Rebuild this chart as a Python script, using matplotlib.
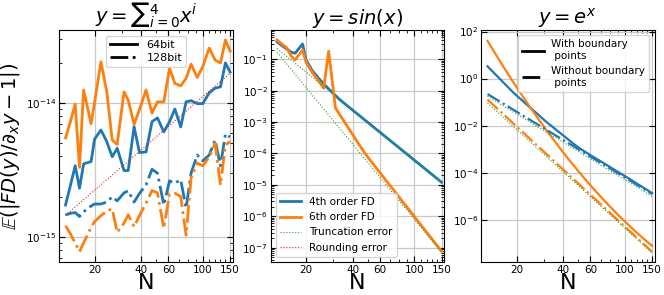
import matplotlib
matplotlib.use('Agg')
import matplotlib.pyplot as plt
from matplotlib.lines import Line2D

plt.rcParams['xtick.direction'] = 'in'
plt.rcParams['ytick.direction'] = 'in'
plt.rcParams['xtick.top'] = True
plt.rcParams['ytick.right'] = True
plt.rcParams['xtick.labelsize'] = 7.5
plt.rcParams['ytick.labelsize'] = 7.5
plt.rcParams['axes.grid'] = True
plt.rcParams['grid.color'] = '#c8c8c8'
plt.rcParams['grid.linewidth'] = 0.9

N = [13, 14, 15, 16, 17, 19, 20, 22, 24, 26, 28, 31, 33, 36, 39, 43, 47, 51,
     56, 61, 66, 72, 78, 84, 92, 100, 110, 120, 130, 140, 150]
N_ends = [13, 150]

# y = sum x^i
poly_fd4_64 = [1.73e-15, 2.44e-15, 3.40e-15, 2.31e-15, 3.51e-15, 3.65e-15, 5.36e-15,
               6.29e-15, 5.14e-15, 3.97e-15, 4.59e-15, 3.13e-15, 3.13e-15, 6.66e-15,
               4.26e-15, 4.31e-15, 7.25e-15, 7.73e-15, 6.08e-15, 7.25e-15, 9.02e-15,
               6.62e-15, 1.02e-14, 1.04e-14, 9.88e-15, 9.9e-15, 1.19e-14, 1.29e-14,
               1.32e-14, 1.99e-14, 1.70e-14]
poly_fd6_64 = [5.48e-15, 7.3e-15, 9.8e-15, 3.3e-15, 1.25e-14, 7.0e-15, 1.0e-14,
               2.03e-14, 1.21e-14, 5.3e-15, 4.9e-15, 1.21e-14, 1.05e-14, 6.9e-15,
               8.9e-15, 1.25e-14, 8.4e-15, 1.02e-14, 1.02e-14, 1.82e-14, 1.40e-14,
               1.34e-14, 1.53e-14, 1.95e-14, 1.55e-14, 1.87e-14, 2.57e-14, 2.09e-14,
               1.99e-14, 2.95e-14, 2.44e-14]
poly_fd4_128 = [1.46e-15, 1.50e-15, 1.52e-15, 1.42e-15, 1.54e-15, 1.70e-15, 1.76e-15,
                1.76e-15, 1.82e-15, 1.99e-15, 1.86e-15, 2.13e-15, 2.21e-15, 1.82e-15,
                2.11e-15, 2.44e-15, 3.20e-15, 2.99e-15, 1.73e-15, 2.62e-15, 2.52e-15,
                2.67e-15, 1.64e-15, 2.99e-15, 4.09e-15, 3.69e-15, 4.09e-15, 5.29e-15,
                3.39e-15, 5.88e-15, 5.57e-15]
poly_fd6_128 = [1.21e-15, 1.05e-15, 9.0e-16, 7.76e-16, 9.0e-16, 1.18e-15, 1.30e-15,
                1.44e-15, 1.56e-15, 1.62e-15, 1.08e-15, 1.27e-15, 1.46e-15, 1.19e-15,
                1.44e-15, 1.79e-15, 2.22e-15, 2.13e-15, 1.16e-15, 2.09e-15, 2.12e-15,
                2.00e-15, 1.03e-15, 2.75e-15, 3.56e-15, 3.39e-15, 3.95e-15, 5.02e-15,
                2.44e-15, 4.86e-15, 5.14e-15]
rounding = [1.45e-15, 1.67e-14]

# y = sin(x)
sin_fd4 = [0.362, 0.27, 0.215, 0.17, 0.155, 0.306, 0.095, 0.0426, 0.0255, 0.0164,
           0.0114, 7.0e-3, 5.2e-3, 3.66e-3, 2.65e-3, 1.80e-3, 1.26e-3, 9.1e-4, 6.25e-4,
           4.44e-4, 3.24e-4, 2.29e-4, 1.66e-4, 1.23e-4, 8.6e-5, 6.1e-5, 4.2e-5,
           2.96e-5, 2.15e-5, 1.6e-5, 1.21e-5]
sin_fd6 = [0.41, 0.30, 0.233, 0.13, 0.095, 0.197, 0.082, 0.037, 0.0212, 0.012, 0.18,
           2.8e-3, 1.72e-3, 8.9e-4, 4.8e-4, 2.3e-4, 1.17e-4, 6.8e-5, 3.8e-5, 2.2e-5,
           1.34e-5, 7.8e-6, 4.7e-6, 2.9e-6, 1.66e-6, 9.8e-7, 5.4e-7, 3.1e-7, 1.88e-7,
           1.18e-7, 7.6e-8]
sin_trunc4 = [0.22, 1.24e-5]
sin_trunc6 = [0.167, 7.1e-8]

# y = e^x
exp_fd4_b = [3.31, 2.02, 1.27, 0.82, 0.55, 0.26, 0.193, 0.110, 0.066, 0.0415, 0.0269,
             0.0148, 0.0106, 6.7e-3, 4.4e-3, 2.62e-3, 1.64e-3, 1.1e-3, 7.4e-4, 5.2e-4,
             3.8e-4, 2.7e-4, 1.95e-4, 1.45e-4, 1.0e-4, 7.2e-5, 4.9e-5, 3.4e-5, 2.45e-5,
             1.8e-5, 1.35e-5]
exp_fd6_b = [39.8, 17.8, 8.5, 4.3, 2.29, 0.73, 0.437, 0.170, 0.0735, 0.0344, 0.0172,
             6.8e-3, 3.9e-3, 1.82e-3, 9.1e-4, 4.0e-4, 1.95e-4, 1.02e-4, 4.9e-5, 2.58e-5,
             1.45e-5, 7.7e-6, 4.4e-6, 2.65e-6, 1.45e-6, 8.5e-7, 4.67e-7, 2.75e-7,
             1.73e-7, 1.13e-7, 7.7e-8]
exp_fd4_nb = [0.22, 0.1636, 0.124, 0.0959, 0.0752, 0.0482, 0.0393, 0.0268, 0.0189,
              0.01375, 0.01022, 6.8e-3, 5.3e-3, 3.74e-3, 2.72e-3, 1.84e-3, 1.29e-3,
              9.3e-4, 6.4e-4, 4.5e-4, 3.3e-4, 2.34e-4, 1.70e-4, 1.26e-4, 8.8e-5, 6.3e-5,
              4.3e-5, 3.0e-5, 2.2e-5, 1.64e-5, 1.24e-5]
exp_fd6_nb = [0.128, 0.0815, 0.0535, 0.0362, 0.0250, 0.0127, 9.28e-3, 5.20e-3, 3.06e-3,
              1.88e-3, 1.20e-3, 6.45e-4, 4.40e-4, 2.59e-4, 1.59e-4, 8.78e-5, 5.11e-5,
              3.11e-5, 1.75e-5, 1.04e-5, 6.57e-6, 3.80e-6, 2.33e-6, 1.48e-6, 8.5e-7,
              5.13e-7, 2.87e-7, 1.69e-7, 1.04e-7, 6.6e-8, 4.34e-8]
exp_trunc4 = [0.176, 9.9e-6]
exp_trunc6 = [0.092, 3.9e-8]

xticks = [20, 40, 60, 100, 150]
xminor = [30, 50, 70, 80, 90, 110, 120, 130, 140]

fig = plt.figure(figsize=(6.64, 2.95), dpi=100)
w, h = 0.2616, 0.786
ax1 = fig.add_axes([0.0889, 0.112, w, h])
ax2 = fig.add_axes([0.4074, 0.112, w, h])
ax3 = fig.add_axes([0.7244, 0.112, w, h])

for ax in (ax1, ax2, ax3):
    ax.set_xscale('log')
    ax.set_yscale('log')
    ax.set_xlim(11.8, 156)
    ax.set_xticks(xticks)
    ax.set_xticklabels([str(t) for t in xticks])
    ax.set_xticks(xminor, minor=True)
    ax.set_xticklabels([], minor=True)
    ax.tick_params(which='major', length=4, pad=2)
    ax.tick_params(which='minor', length=2.5)
    ax.set_xlabel('N', fontsize=16, labelpad=-1)

lw = 2
# panel 1
ax1.plot(N, poly_fd4_64, color='C0', lw=lw)
ax1.plot(N, poly_fd6_64, color='C1', lw=lw)
ax1.plot(N, poly_fd4_128, color='C0', lw=lw, ls='-.')
ax1.plot(N, poly_fd6_128, color='C1', lw=lw, ls='-.')
ax1.plot(N_ends, rounding, color='C3', lw=0.8, ls=':')
ax1.set_ylim(6.5e-16, 3.5e-14)
ax1.set_title(r'$y=\sum{}_{i=0}^{4}x^i$', fontsize=14, pad=3)
ax1.set_ylabel(r'$\mathbb{E}(|FD(y)/\partial_x y - 1|)$', fontsize=14, labelpad=3)
ax1.legend([Line2D([], [], color='k', lw=lw), Line2D([], [], color='k', lw=lw, ls='-.')],
           ['64bit', '128bit'], loc='upper center', fontsize=8,
           labelspacing=0.3, borderpad=0.35, handlelength=2.5)

# panel 2
ax2.plot(N, sin_fd4, color='C0', lw=lw, label='4th order FD')
ax2.plot(N, sin_fd6, color='C1', lw=lw, label='6th order FD')
ax2.plot(N_ends, sin_trunc4, color='C2', lw=0.8, ls=':', label='Truncation error')
ax2.plot(N_ends, sin_trunc6, color='C2', lw=0.8, ls=':')
ax2.plot(N_ends, rounding, color='C3', lw=0.8, ls=':', label='Rounding error')
ax2.set_ylim(3.5e-8, 0.85)
ax2.set_title(r'$y=sin(x)$', fontsize=14, pad=3)
ax2.legend(loc='lower left', fontsize=7.5)

# panel 3
lw3 = 1.6
ax3.plot(N, exp_fd4_b, color='C0', lw=lw3)
ax3.plot(N, exp_fd6_b, color='C1', lw=lw3)
ax3.plot(N, exp_fd4_nb, color='C0', lw=lw3, ls='-.')
ax3.plot(N, exp_fd6_nb, color='C1', lw=lw3, ls='-.')
ax3.plot(N_ends, exp_trunc4, color='C2', lw=0.8, ls=':')
ax3.plot(N_ends, exp_trunc6, color='C2', lw=0.8, ls=':')
ax3.set_ylim(1.6e-8, 115)
ax3.set_title(r'$y=e^x$', fontsize=14, pad=3)
ax3.legend([Line2D([], [], color='k', lw=lw), Line2D([], [], color='k', lw=lw, ls='-.')],
           ['With boundary\n points', 'Without boundary\n points'],
           loc='upper right', fontsize=7.5, handlelength=2.1, handletextpad=0.7)

fig.savefig('out.png', dpi=100)
